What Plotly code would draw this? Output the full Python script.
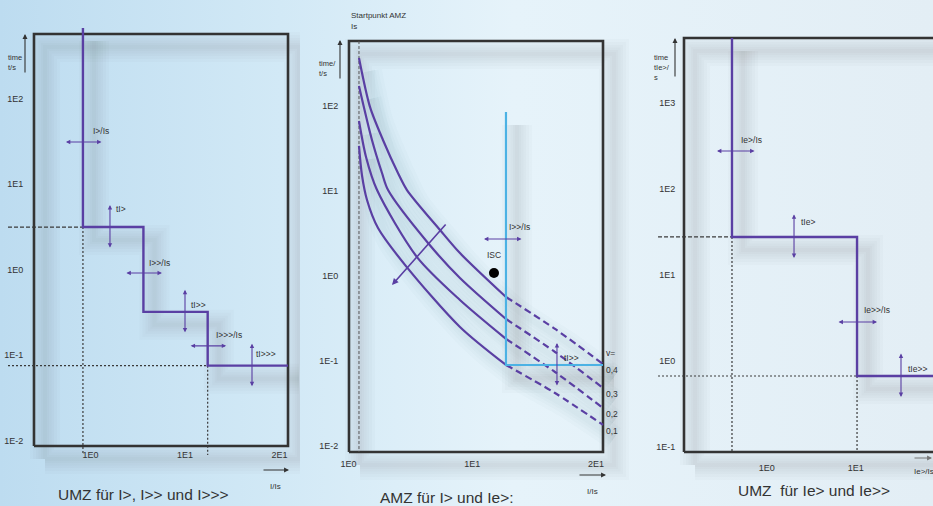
import math
import base64
import plotly.graph_objects as go

W, H = 933, 506
FONT = "Liberation Sans, Arial, sans-serif"
PURPLE = "#5a3fa3"
CYAN = "#4cb2e4"
FRAME = "#333333"
GUIDE = "#3a3a3a"
TEXT = "#333333"

# ---------------- data ----------------
X_TICKVALS = [1, 2, 3]
X_TICKTEXT = ["1E0", "1E1", "2E1"]
T_TICKVALS_A = [0.01, 0.1, 1, 10, 100]
T_TICKTEXT_A = ["1E-2", "1E-1", "1E0", "1E1", "1E2"]
T_TICKVALS_E = [0.1, 1, 10, 100, 1000]
T_TICKTEXT_E = ["1E-1", "1E0", "1E1", "1E2", "1E3"]

# UMZ for I>, I>>, I>>>  (pickup in tick-index units of I/Is, times in s)
UMZ_PICKUP = [0.92, 1.56, 2.24]
UMZ_TIME = [3.15, 0.32, 0.075]
UMZ_TOP_TIME = 675
UMZ_PICKUP_LABELS = ["I>/Is", "I>>/Is", "I>>>/Is"]
UMZ_TIME_LABELS = ["tI>", "tI>>", "tI>>>"]

# UMZ for Ie>, Ie>>
UMZE_PICKUP = [0.61, 2.015]
UMZE_TIME = [27.5, 0.668]
UMZE_PICKUP_LABELS = ["Ie>/Is", "Ie>>/Is"]
UMZE_TIME_LABELS = ["tIe>", "tIe>>"]

# AMZ inverse-time curves for v = 0.4 ... 0.1
AMZ_START = 1.085
AMZ_V_LABELS = ["0,4", "0,3", "0,2", "0,1"]
AMZ_I_04 = [1.085, 1.174, 1.279, 1.400, 1.473, 1.740, 1.901, 2.273, 2.669, 3.057]
AMZ_T_04 = [365, 97, 39.6, 16.2, 10.2, 3.46, 1.85, 0.563, 0.237, 0.0917]
AMZ_I_03 = [1.085, 1.190, 1.271, 1.320, 1.643, 1.901, 2.273, 2.669, 3.057]
AMZ_T_03 = [171, 39.6, 16.2, 10.2, 2.43, 0.942, 0.310, 0.127, 0.0479]
AMZ_I_02 = [1.085, 1.142, 1.231, 1.554, 1.901, 2.273, 2.669, 3.057]
AMZ_T_02 = [66.2, 25.0, 10.2, 1.66, 0.519, 0.181, 0.0738, 0.0278]
AMZ_I_01 = [1.085, 1.109, 1.150, 1.239, 1.465, 1.901, 2.273, 2.669, 3.057]
AMZ_T_01 = [33.7, 15.3, 7.80, 3.65, 1.30, 0.250, 0.0893, 0.0418, 0.0176]
AMZ_HS_PICKUP = 2.273
AMZ_HS_TIME = 0.0893
AMZ_HS_TOP = 84.5
ISC_I = [2.176]
ISC_T = [1.08]
AMZ_ARROW_I = [1.796, 1.352]
AMZ_ARROW_T = [4.18, 0.78]

# ---------------- panel geometry (layout) ----------------
PANELS = [
    dict(key="L", dom=(0, 300), x0=-4.0, kx=94.5, y0=269.6, ky=85.4,
         frame=(0.402, 3.09, 0.00859, 574), xtl=0, ytl=9,
         tv=T_TICKVALS_A, tt=T_TICKTEXT_A),
    dict(key="M", dom=(300, 640), x0=224.7, kx=123.75, y0=275.8, ky=85.0,
         frame=(1.0044, 3.057, 0.00845, 578), xtl=3, ytl=9,
         tv=T_TICKVALS_A, tt=T_TICKTEXT_A),
    dict(key="R", dom=(640, 933), x0=677.7, kx=89.0, y0=360.9, ky=86.1,
         frame=(0.0708, 3.06, 0.0875, 5623), xtl=7, ytl=7,
         tv=T_TICKVALS_E, tt=T_TICKTEXT_E),
]
GEOM = {P["key"]: P for P in PANELS}
AX = {"L": ("x", "y"), "M": ("x2", "y2"), "R": ("x3", "y3")}
GUIDE_X0 = {"L": 0.127, "R": -0.221}
GUIDE_BOTTOM_L = [0.0071, 0.00675]
SHADOW_DX, SHADOW_DY = 11, 13  # px offset of the soft drop shadows

fig = go.Figure()


def add_line(panel, xs, ys, color, width, dash=None, shape="linear", mode="lines", marker=None):
    xa, ya = AX[panel]
    fig.add_trace(go.Scatter(
        x=xs, y=ys, xaxis=xa, yaxis=ya, mode=mode,
        line=dict(color=color, width=width, dash=dash, shape=shape, smoothing=0.8 if shape == "spline" else None),
        marker=marker, hoverinfo="skip", showlegend=False))


def shadow(panel, xs, ys, shape="linear", widths=(30, 24, 18, 13, 8, 4), alpha=0.022):
    P = GEOM[panel]
    dx = SHADOW_DX / P["kx"]
    mul = 10 ** (-SHADOW_DY / P["ky"])
    for w in widths:
        add_line(panel, [x + dx for x in xs], [y * mul for y in ys],
                 "rgba(70,80,95,%.3f)" % alpha, w, shape=shape)


annotations = []


def lg(t):
    return math.log10(t)


def harrow(panel, x, t, length=38, shift=0):
    xa, ya = AX[panel]
    annotations.append(dict(xref=xa, yref=ya, x=x, y=lg(t), ax=-length, ay=0,
                            xshift=length / 2 + shift, text="", showarrow=True,
                            arrowhead=2, startarrowhead=2, arrowside="end+start",
                            arrowsize=0.8, startarrowsize=0.8, arrowwidth=1.1,
                            arrowcolor=PURPLE, standoff=0, startstandoff=0))


def varrow(panel, x, t, length=44):
    xa, ya = AX[panel]
    annotations.append(dict(xref=xa, yref=ya, x=x, y=lg(t), ax=0, ay=length,
                            yshift=length / 2, text="", showarrow=True,
                            arrowhead=2, startarrowhead=2, arrowside="end+start",
                            arrowsize=0.8, startarrowsize=0.8, arrowwidth=1.1,
                            arrowcolor=PURPLE, standoff=0, startstandoff=0))


def label(panel, x, t, text, xshift=0, yshift=0, size=8.5, xanchor="left"):
    xa, ya = AX[panel]
    annotations.append(dict(xref=xa, yref=ya, x=x, y=lg(t), text=text, showarrow=False,
                            xanchor=xanchor, yanchor="middle", xshift=xshift, yshift=yshift,
                            font=dict(family=FONT, size=size, color=TEXT)))


def ptext(px, py, text, size=8.5, xanchor="left", yanchor="middle", align="left"):
    annotations.append(dict(xref="paper", yref="paper", x=px / W, y=1 - py / H, text=text,
                            showarrow=False, xanchor=xanchor, yanchor=yanchor, align=align,
                            font=dict(family=FONT, size=size, color=TEXT)))


def parrow(px, py, ax, ay, width=1.1, color="#333333"):
    annotations.append(dict(xref="paper", yref="paper", x=px / W, y=1 - py / H, ax=ax, ay=ay,
                            text="", showarrow=True, arrowhead=2, arrowsize=0.9,
                            arrowwidth=width, arrowcolor=color, standoff=0))


curves = [(AMZ_I_04, AMZ_T_04), (AMZ_I_03, AMZ_T_03), (AMZ_I_02, AMZ_T_02), (AMZ_I_01, AMZ_T_01)]
fl, fm, fr = PANELS[0]["frame"], PANELS[1]["frame"], PANELS[2]["frame"]

# ---------------- soft shadows (drawn first) ----------------
for P in PANELS:
    fx0, fx1, fb, ft = P["frame"]
    shadow(P["key"], [fx0, fx1, fx1, fx0, fx0], [fb, fb, ft, ft, fb])
shadow("L", UMZ_PICKUP + [fl[1]], [UMZ_TOP_TIME] + UMZ_TIME, shape="vh")
shadow("R", UMZE_PICKUP + [fr[1]], [fr[3]] + UMZE_TIME, shape="vh")
for xs, ts in curves:
    shadow("M", xs, ts, shape="spline", widths=(24, 17, 11, 6), alpha=0.02)
shadow("M", [AMZ_HS_PICKUP, AMZ_HS_PICKUP, fm[1]], [AMZ_HS_TOP, AMZ_HS_TIME, AMZ_HS_TIME])

# ---------------- frames ----------------
for P in PANELS:
    fx0, fx1, fb, ft = P["frame"]
    add_line(P["key"], [fx0, fx1, fx1, fx0, fx0], [fb, fb, ft, ft, fb], FRAME, 2.6)

# ---------------- left panel: UMZ I>, I>>, I>>> ----------------
gx = GUIDE_X0["L"]
add_line("L", [gx, UMZ_PICKUP[0]], [UMZ_TIME[0], UMZ_TIME[0]], GUIDE, 1.2, dash="4px,2px")
add_line("L", [UMZ_PICKUP[0], UMZ_PICKUP[0]], [UMZ_TIME[0], GUIDE_BOTTOM_L[0]], GUIDE, 1.2, dash="2px,2px")
add_line("L", [gx, UMZ_PICKUP[2]], [UMZ_TIME[2], UMZ_TIME[2]], GUIDE, 1.2, dash="2px,2px")
add_line("L", [UMZ_PICKUP[2], UMZ_PICKUP[2]], [UMZ_TIME[2], GUIDE_BOTTOM_L[1]], GUIDE, 1.2, dash="2px,2px")
add_line("L", UMZ_PICKUP + [fl[1]], [UMZ_TOP_TIME] + UMZ_TIME, PURPLE, 2.4, shape="vh")

# arrows (layout positions of arrow axes)
L_H_ARROW_T = [31.2, 0.912, 0.128]
L_V_ARROW_X = [1.206, 2.0, 2.709]
for i in range(3):
    harrow("L", UMZ_PICKUP[i], L_H_ARROW_T[i], length=37)
    varrow("L", L_V_ARROW_X[i], UMZ_TIME[i], length=44)
label("L", UMZ_PICKUP[0], L_H_ARROW_T[0], UMZ_PICKUP_LABELS[0], xshift=8, yshift=11)
label("L", UMZ_PICKUP[1], L_H_ARROW_T[1], UMZ_PICKUP_LABELS[1], xshift=4, yshift=10)
label("L", UMZ_PICKUP[2], L_H_ARROW_T[2], UMZ_PICKUP_LABELS[2], xshift=6, yshift=11)
label("L", L_V_ARROW_X[0], UMZ_TIME[0], UMZ_TIME_LABELS[0], xshift=4, yshift=18)
label("L", L_V_ARROW_X[1], UMZ_TIME[1], UMZ_TIME_LABELS[1], xshift=4, yshift=7)
label("L", L_V_ARROW_X[2], UMZ_TIME[2], UMZ_TIME_LABELS[2], xshift=2, yshift=12)

ptext(6, 51, "time<br>t/s", size=7.5, yanchor="top")
parrow(25, 34, 0, 40)
ptext(268, 486, "I/Is", size=8)
parrow(289, 470, -27, 0)
ptext(143, 494, "UMZ für I>, I>> und I>>>", size=15.5, xanchor="center")

# ---------------- middle panel: AMZ ----------------
add_line("M", [AMZ_START, AMZ_START], [fm[3], fm[2]], "#555555", 1.0, dash="3px,2px")
for xs, ts in curves:
    solid = [(x, t) for x, t in zip(xs, ts) if x <= AMZ_HS_PICKUP]
    dashed = [(x, t) for x, t in zip(xs, ts) if x >= AMZ_HS_PICKUP]
    add_line("M", [p[0] for p in solid], [p[1] for p in solid], PURPLE, 2.2, shape="spline")
    add_line("M", [p[0] for p in dashed], [p[1] for p in dashed], PURPLE, 2.2, dash="7px,4px", shape="spline")
add_line("M", [AMZ_HS_PICKUP, AMZ_HS_PICKUP, fm[1]], [AMZ_HS_TOP, AMZ_HS_TIME, AMZ_HS_TIME], CYAN, 2.2)
add_line("M", ISC_I, ISC_T, "black", 1, mode="markers", marker=dict(size=10, color="black"))

annotations.append(dict(xref="x2", yref="y2", axref="x2", ayref="y2",
                        x=AMZ_ARROW_I[1], y=lg(AMZ_ARROW_T[1]), ax=AMZ_ARROW_I[0], ay=lg(AMZ_ARROW_T[0]),
                        text="", showarrow=True, arrowhead=2, arrowsize=0.8, arrowwidth=1.6,
                        arrowcolor=PURPLE, standoff=0))
M_H_ARROW_T = 2.71
M_V_ARROW_X = 2.685
harrow("M", AMZ_HS_PICKUP, M_H_ARROW_T, length=39, shift=-4)
varrow("M", M_V_ARROW_X, AMZ_HS_TIME, length=44)
label("M", AMZ_HS_PICKUP, M_H_ARROW_T, "I>>/Is", xshift=1, yshift=12)
label("M", M_V_ARROW_X, AMZ_HS_TIME, "tI>>", xshift=5, yshift=7)
label("M", ISC_I[0], ISC_T[0], "ISC", xshift=0, yshift=18, xanchor="center")
for (xs, ts), vl in zip(curves, AMZ_V_LABELS):
    label("M", fm[1], ts[-1], vl, xshift=1, yshift=-6, size=8.5)
label("M", fm[1], AMZ_T_04[-1], "v=", xshift=1, yshift=11, size=8.5)

ptext(349, 15, "Startpunkt AMZ", size=8)
ptext(349, 26, "Is", size=8)
ptext(317, 57, "time/<br>t/s", size=7.5, yanchor="top")
parrow(340, 40, 0, 40)
ptext(585, 491, "I/Is", size=8)
parrow(606, 475, -28, 0)
ptext(447, 497, "AMZ für I> und Ie>:", size=15.5, xanchor="center")

# ---------------- right panel: UMZ Ie>, Ie>> ----------------
gx = GUIDE_X0["R"]
add_line("R", [gx, UMZE_PICKUP[0]], [UMZE_TIME[0], UMZE_TIME[0]], GUIDE, 1.2, dash="4px,2px")
add_line("R", [UMZE_PICKUP[0], UMZE_PICKUP[0]], [UMZE_TIME[0], fr[2]], GUIDE, 1.2, dash="2px,2px")
add_line("R", [gx, UMZE_PICKUP[1]], [UMZE_TIME[1], UMZE_TIME[1]], GUIDE, 1.2, dash="2px,2px")
add_line("R", [UMZE_PICKUP[1], UMZE_PICKUP[1]], [UMZE_TIME[1], fr[2]], GUIDE, 1.2, dash="2px,2px")
add_line("R", UMZE_PICKUP + [fr[1]], [fr[3]] + UMZE_TIME, PURPLE, 2.4, shape="vh")

R_H_ARROW_T = [274.0, 2.83]
R_V_ARROW_X = [1.307, 2.509]
harrow("R", UMZE_PICKUP[0], R_H_ARROW_T[0], length=39, shift=3)
harrow("R", UMZE_PICKUP[1], R_H_ARROW_T[1], length=40)
for i in range(2):
    varrow("R", R_V_ARROW_X[i], UMZE_TIME[i], length=45)
label("R", UMZE_PICKUP[0], R_H_ARROW_T[0], UMZE_PICKUP_LABELS[0], xshift=7, yshift=11)
label("R", UMZE_PICKUP[1], R_H_ARROW_T[1], UMZE_PICKUP_LABELS[1], xshift=5, yshift=12)
label("R", R_V_ARROW_X[0], UMZE_TIME[0], UMZE_TIME_LABELS[0], xshift=5, yshift=15)
label("R", R_V_ARROW_X[1], UMZE_TIME[1], UMZE_TIME_LABELS[1], xshift=5, yshift=7)

ptext(652, 51, "time<br>tIe>/<br>s", size=7.5, yanchor="top")
parrow(675, 38, 0, 40)
ptext(912, 471, "Ie>/Is", size=8)
parrow(945, 458, -32, 0, color="#777777")
ptext(814, 490, "UMZ  für Ie> und Ie>>", size=15.5, xanchor="center")

# ---------------- axes ----------------
layout_axes = {}
for n, P in enumerate(PANELS, start=1):
    sfx = "" if n == 1 else str(n)
    xr = [(P["dom"][0] - P["x0"]) / P["kx"], (P["dom"][1] - P["x0"]) / P["kx"]]
    yr = [(P["y0"] - H) / P["ky"], P["y0"] / P["ky"]]
    fx0, fx1, fb, ft = P["frame"]
    ypos = (P["x0"] + P["kx"] * fx0) / W
    xpos = 1 - (P["y0"] - P["ky"] * math.log10(fb)) / H
    tickfont = dict(family=FONT, size=9, color=TEXT)
    layout_axes["xaxis" + sfx] = dict(
        domain=[P["dom"][0] / W, P["dom"][1] / W], range=xr, anchor="free", position=xpos,
        tickvals=X_TICKVALS, ticktext=X_TICKTEXT, ticks="outside", ticklen=max(P["xtl"], 0.1),
        tickcolor="rgba(0,0,0,0)", showline=False, showgrid=False, zeroline=False,
        tickfont=tickfont, fixedrange=True, automargin=False)
    layout_axes["yaxis" + sfx] = dict(
        domain=[0, 1], type="log", range=yr, anchor="free", position=ypos,
        tickvals=P["tv"], ticktext=P["tt"], ticks="outside", ticklen=P["ytl"],
        tickcolor="rgba(0,0,0,0)", showline=False, showgrid=False, zeroline=False,
        tickfont=tickfont, fixedrange=True, automargin=False)

svg = ('<svg xmlns="http://www.w3.org/2000/svg" width="933" height="506" preserveAspectRatio="none">'
       '<defs><linearGradient id="g" x1="0" y1="0" x2="1" y2="0">'
       '<stop offset="0" stop-color="#bddcf0"/>'
       '<stop offset="0.3" stop-color="#d2e9f6"/>'
       '<stop offset="0.55" stop-color="#e6f3fa"/>'
       '<stop offset="1" stop-color="#e3eef5"/>'
       '</linearGradient></defs><rect width="933" height="506" fill="url(#g)"/></svg>')
bg = "data:image/svg+xml;base64," + base64.b64encode(svg.encode()).decode()

fig.update_layout(
    width=W, height=H, autosize=False, template="none",
    margin=dict(l=0, r=0, t=0, b=0, pad=0),
    paper_bgcolor="#dcedf7", plot_bgcolor="rgba(0,0,0,0)",
    showlegend=False, hovermode=False,
    annotations=annotations,
    images=[dict(source=bg, xref="paper", yref="paper", x=0, y=1, sizex=1, sizey=1,
                 sizing="stretch", xanchor="left", yanchor="top", layer="below")],
    **layout_axes,
)

fig.write_html("out.html", config={"displayModeBar": False},
               post_script="document.body.style.margin='0px';document.body.style.overflow='hidden';")
